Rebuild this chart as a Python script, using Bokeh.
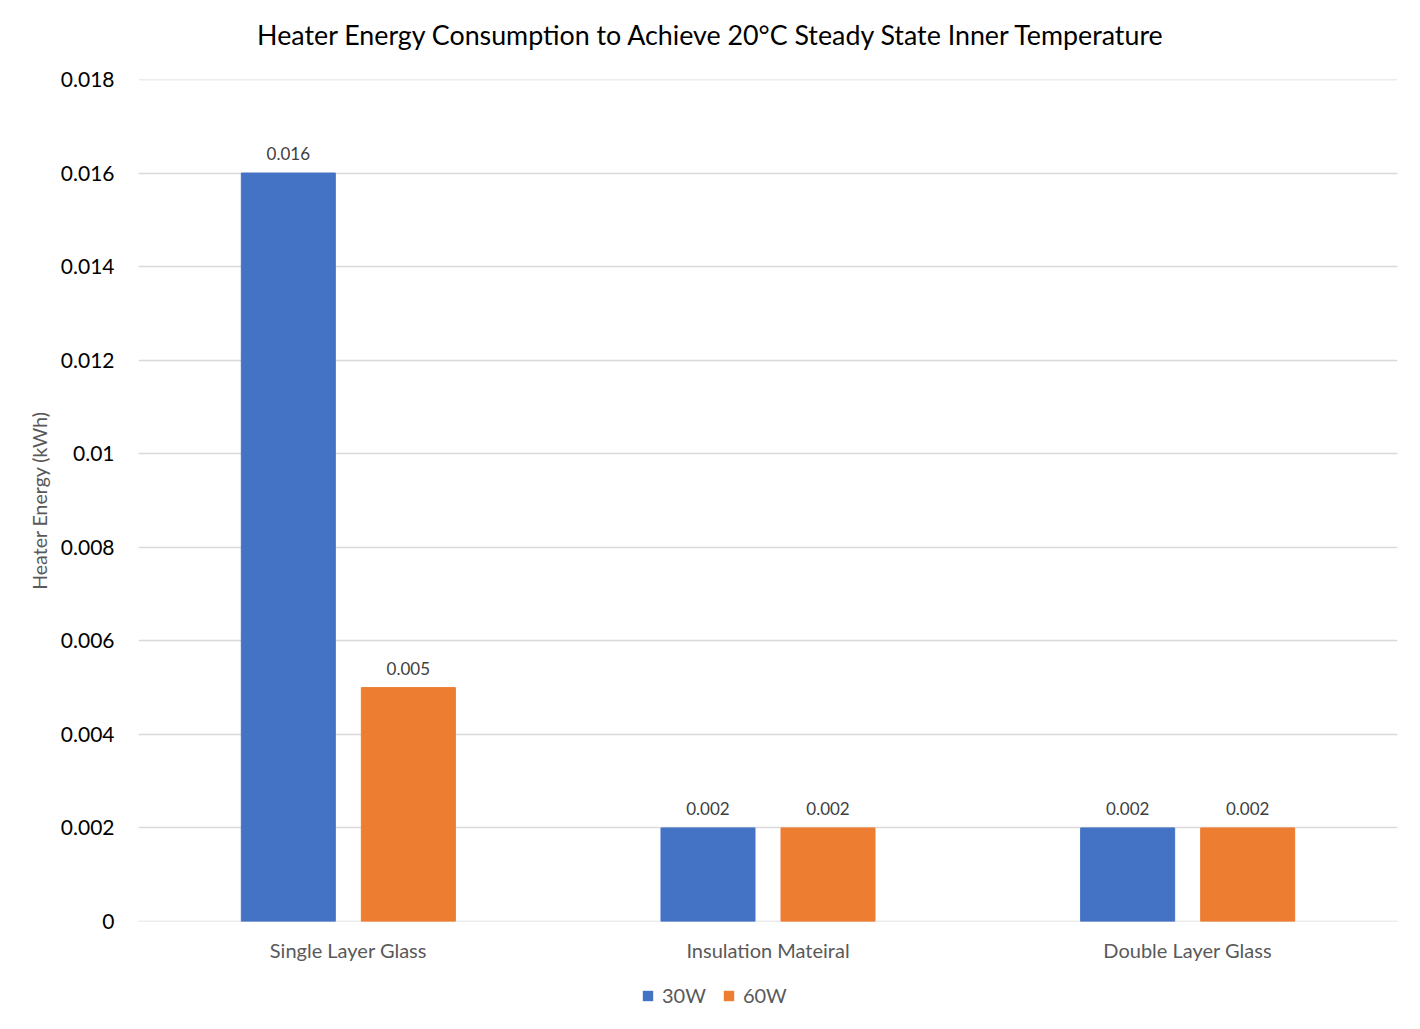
from bokeh.plotting import figure
from bokeh.layouts import column
from bokeh.models import (ColumnDataSource, FixedTicker, CustomJSTickFormatter, LabelSet, Label,
                          Legend, LegendItem, Range1d)
from bokeh.core.properties import value
from bokeh.embed import file_html
from bokeh.resources import INLINE

title_text = "Heater Energy Consumption to Achieve 20°C Steady State Inner Temperature"
categories = ["Single Layer Glass", "Insulation Mateiral", "Double Layer Glass"]
series_names = ["30W", "60W"]
vals_30w = [0.016, 0.002, 0.002]
vals_60w = [0.005, 0.002, 0.002]
y_ticks = [0, 0.002, 0.004, 0.006, 0.008, 0.010, 0.012, 0.014, 0.016, 0.018]

BLUE = "#4472C4"
ORANGE = "#ED7D31"
FONT = "Lato"
W = 1412
BL, BR = 138, 15
TOP_H = 60


def strip(h):
    f = figure(width=W, height=h, output_backend="svg", toolbar_location=None,
               x_range=Range1d(0, 1), y_range=Range1d(0, 1), x_axis_type=None, y_axis_type=None,
               min_border_left=BL, min_border_right=BR, min_border_top=0, min_border_bottom=0)
    f.outline_line_color = None
    f.grid.grid_line_color = None
    f.border_fill_color = "white"
    return f


# title strip
top = strip(TOP_H)
frame_w = W - BL - BR
top.add_layout(Label(x=(711.5 - BL) / frame_w, y=(TOP_H - 34) / TOP_H, text=title_text,
                     text_align="center", text_baseline="alphabetic", text_font=FONT,
                     text_font_size="26.8px", text_color="#000000"))

centers = [i + 0.5 for i in range(len(categories))]
off = 0.143
bw = 0.224

src30 = ColumnDataSource(dict(x=[c - off for c in centers], top=vals_30w,
                              lbl=[f"{v:g}" for v in vals_30w]))
src60 = ColumnDataSource(dict(x=[c + off for c in centers], top=vals_60w,
                              lbl=[f"{v:g}" for v in vals_60w]))

p = figure(width=W, height=975 - TOP_H, output_backend="svg", toolbar_location=None,
           x_range=Range1d(0, 3), y_range=Range1d(-0.0000001, 0.0180001),
           min_border_left=BL, min_border_right=BR, min_border_top=79 - TOP_H, min_border_bottom=54)

r30 = p.vbar(x="x", top="top", width=bw, source=src30, color=BLUE)
r60 = p.vbar(x="x", top="top", width=bw, source=src60, color=ORANGE)

for s in (src30, src60):
    p.add_layout(LabelSet(x="x", y="top", text="lbl", source=s, text_align="center",
                          text_baseline="bottom", y_offset=13, text_font=value(FONT),
                          text_font_size="17px", text_color="#404040"))

p.outline_line_color = None
p.background_fill_color = "white"
p.border_fill_color = "white"

p.xgrid.grid_line_color = None
p.ygrid.grid_line_color = "#D9D9D9"
p.ygrid.grid_line_width = 1.5
p.ygrid.ticker = FixedTicker(ticks=y_ticks)

p.yaxis.ticker = FixedTicker(ticks=y_ticks)
p.yaxis.formatter = CustomJSTickFormatter(code="return String(parseFloat(tick.toFixed(3)));")
p.yaxis.axis_line_color = None
p.yaxis.major_tick_line_color = None
p.yaxis.minor_tick_line_color = None
p.yaxis.major_label_text_font = FONT
p.yaxis.major_label_text_font_size = "21px"
p.yaxis.major_label_text_color = "#000000"
p.yaxis.major_label_standoff = 18
p.yaxis.axis_label = "Heater Energy (kWh)"
p.yaxis.axis_label_text_font = FONT
p.yaxis.axis_label_text_font_size = "19.5px"
p.yaxis.axis_label_text_font_style = "normal"
p.yaxis.axis_label_text_color = "#595959"
p.yaxis.axis_label_standoff = 7

p.xaxis.ticker = FixedTicker(ticks=centers)
p.xaxis.major_label_overrides = {c: n for c, n in zip(centers, categories)}
p.xaxis.axis_line_color = None
p.xaxis.major_tick_line_color = None
p.xaxis.minor_tick_line_color = None
p.xaxis.major_label_text_font = FONT
p.xaxis.major_label_text_font_size = "20px"
p.xaxis.major_label_text_color = "#595959"
p.xaxis.major_label_standoff = 10

# legend strip below the chart (proxy renderers have zero height, so only the legend shows)
lg = strip(40)
proxy = ColumnDataSource(dict(x=[0.5], top=[0.0]))
l30 = lg.vbar(x="x", top="top", bottom="top", width=0.01, source=proxy,
              fill_color=BLUE, line_color=None)
l60 = lg.vbar(x="x", top="top", bottom="top", width=0.01, source=proxy,
              fill_color=ORANGE, line_color=None)
legend = Legend(items=[LegendItem(label=series_names[0], renderers=[l30]),
                       LegendItem(label=series_names[1], renderers=[l60])],
                orientation="horizontal", location=(641 - BL, 8),
                label_text_font=FONT, label_text_font_size="20px", label_text_color="#595959",
                glyph_width=13, glyph_height=13, spacing=16, label_standoff=8,
                border_line_color=None, background_fill_alpha=0, padding=4, margin=0)
lg.add_layout(legend, "center")

layout = column(top, p, lg, spacing=0)
open("out.html", "w").write(file_html(layout, INLINE))
